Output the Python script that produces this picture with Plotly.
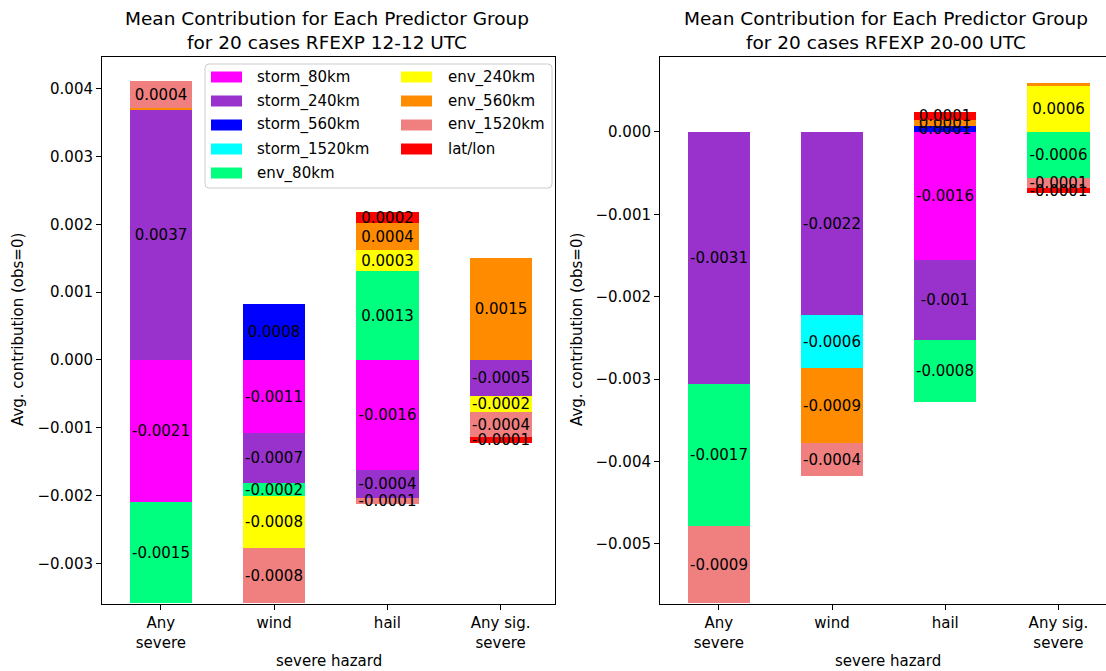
import plotly.graph_objects as go

# Hazard categories and their tick labels
hazards = ["Any severe", "wind", "hail", "Any sig. severe"]
hazard_ticks = ["Any<br>severe", "wind", "hail", "Any sig.<br>severe"]

# Predictor groups and colours
groups = ["storm_80km", "storm_240km", "storm_560km", "storm_1520km", "env_80km",
          "env_240km", "env_560km", "env_1520km", "lat/lon"]
group_colors = ["#ff00ff", "#9932cc", "#0000ff", "#00ffff", "#00ff7f",
                "#ffff00", "#ff8c00", "#f08080", "#ff0000"]

# Mean contribution per group, 12-12 UTC (order: Any severe, wind, hail, Any sig. severe)
utc12_storm_80km = [-0.00209, -0.00107, -0.00163, 0.0]
utc12_storm_240km = [0.00370, -0.00074, -0.00040, -0.00053]
utc12_storm_560km = [0.0, 0.00082, 0.0, 0.0]
utc12_storm_1520km = [0.0, 0.0, 0.0, 0.0]
utc12_env_80km = [-0.00149, -0.00019, 0.00132, 0.0]
utc12_env_240km = [0.0, -0.00078, 0.00030, -0.00024]
utc12_env_560km = [0.00002, 0.0, 0.00040, 0.00151]
utc12_env_1520km = [0.00039, -0.00080, -0.00009, -0.00037]
utc12_latlon = [0.0, 0.0, 0.00016, -0.00009]

# Mean contribution per group, 20-00 UTC
utc20_storm_80km = [0.0, 0.0, -0.00156, 0.0]
utc20_storm_240km = [-0.00306, -0.00222, -0.00096, 0.0]
utc20_storm_560km = [0.0, 0.0, 0.00007, 0.0]
utc20_storm_1520km = [0.0, -0.00064, 0.0, 0.0]
utc20_env_80km = [-0.00172, 0.0, -0.00076, -0.00056]
utc20_env_240km = [0.0, 0.0, 0.0, 0.00056]
utc20_env_560km = [0.0, -0.00091, 0.00008, 0.00004]
utc20_env_1520km = [-0.00094, -0.00041, 0.0, -0.00012]
utc20_latlon = [0.0, 0.0, 0.00009, -0.00006]

utc12 = [utc12_storm_80km, utc12_storm_240km, utc12_storm_560km, utc12_storm_1520km,
         utc12_env_80km, utc12_env_240km, utc12_env_560km, utc12_env_1520km, utc12_latlon]
utc20 = [utc20_storm_80km, utc20_storm_240km, utc20_storm_560km, utc20_storm_1520km,
         utc20_env_80km, utc20_env_240km, utc20_env_560km, utc20_env_1520km, utc20_latlon]

panel_titles = ["Mean Contribution for Each Predictor Group<br>for 20 cases RFEXP 12-12 UTC",
                "Mean Contribution for Each Predictor Group<br>for 20 cases RFEXP 20-00 UTC"]

W, H = 1106, 671
FONT = "DejaVu Sans"
FS = 15


def px(x):
    return x / W


def py(y):
    return 1 - y / H


def seg_label(v):
    r = round(v, 4)
    return "" if r == 0 else str(r)


fig = go.Figure()

for series_set, xa, ya in [(utc12, "x", "y"), (utc20, "x2", "y2")]:
    for name, color, vals in zip(groups, group_colors, series_set):
        fig.add_trace(go.Bar(
            x=hazards, y=vals, name=name, width=0.55,
            marker=dict(color=color, line=dict(width=0)),
            text=[seg_label(v) for v in vals],
            textposition="inside", insidetextanchor="middle", textangle=0,
            textfont=dict(family=FONT, size=FS, color="black"),
            constraintext="none",
            xaxis=xa, yaxis=ya, showlegend=False,
        ))

axis_common = dict(
    showline=True, mirror=True, linecolor="black", linewidth=1,
    ticks="outside", ticklen=5, tickcolor="black", showgrid=False, zeroline=False,
    tickfont=dict(family=FONT, size=FS, color="black"), automargin=False,
)

fig.update_layout(
    width=W, height=H, margin=dict(l=0, r=0, t=0, b=0),
    paper_bgcolor="white", plot_bgcolor="white",
    barmode="relative", bargap=0,
    uniformtext=dict(minsize=FS, mode="show"),
    font=dict(family=FONT, color="black"),
    xaxis=dict(domain=[px(102), px(555)], anchor="y", range=[-0.52, 3.48],
               tickmode="array", tickvals=hazards, ticktext=hazard_ticks, **axis_common),
    yaxis=dict(domain=[py(604), py(57)], anchor="x", range=[-0.0036, 0.00447],
               dtick=0.001, tick0=0, tickformat=".3f", **axis_common),
    xaxis2=dict(domain=[px(660), 1.0], anchor="y2", range=[-0.52, 3.42],
                tickmode="array", tickvals=hazards, ticktext=hazard_ticks, **axis_common),
    yaxis2=dict(domain=[py(604), py(57)], anchor="x2", range=[-0.00573, 0.00091],
                dtick=0.001, tick0=0, tickformat=".3f", **axis_common),
)

# Panel titles and axis titles
annotations = []
for cx, title in [(327, panel_titles[0]), (886, panel_titles[1])]:
    annotations.append(dict(x=px(cx), y=py(30), xref="paper", yref="paper", text=title,
                            showarrow=False, xanchor="center", yanchor="middle",
                            font=dict(family=FONT, size=18.5, color="black")))
for cx in [329, 888]:
    annotations.append(dict(x=px(cx), y=py(661), xref="paper", yref="paper", text="severe hazard",
                            showarrow=False, xanchor="center", yanchor="middle",
                            font=dict(family=FONT, size=FS, color="black")))
for cx in [18, 577]:
    annotations.append(dict(x=px(cx), y=py(330), xref="paper", yref="paper",
                            text="Avg. contribution (obs=0)", textangle=-90,
                            showarrow=False, xanchor="center", yanchor="middle",
                            font=dict(family=FONT, size=FS, color="black")))

# Two-column legend box on the left panel
shapes = []
bx0, by0, bx1, by1, rad = 205, 64, 552, 188, 4
path = (f"M {px(bx0 + rad)} {py(by0)} L {px(bx1 - rad)} {py(by0)} "
        f"Q {px(bx1)} {py(by0)} {px(bx1)} {py(by0 + rad)} "
        f"L {px(bx1)} {py(by1 - rad)} Q {px(bx1)} {py(by1)} {px(bx1 - rad)} {py(by1)} "
        f"L {px(bx0 + rad)} {py(by1)} Q {px(bx0)} {py(by1)} {px(bx0)} {py(by1 - rad)} "
        f"L {px(bx0)} {py(by0 + rad)} Q {px(bx0)} {py(by0)} {px(bx0 + rad)} {py(by0)} Z")
shapes.append(dict(type="path", path=path, xref="paper", yref="paper",
                   fillcolor="rgba(255,255,255,0.8)", line=dict(color="#cccccc", width=1),
                   layer="above"))
row_y = [77, 101, 125, 149, 173]
for i, (name, color) in enumerate(zip(groups, group_colors)):
    col = 0 if i < 5 else 1
    row = i if i < 5 else i - 5
    sx0 = 211 if col == 0 else 401
    tx = 255 if col == 0 else 446
    cy = row_y[row]
    shapes.append(dict(type="rect", xref="paper", yref="paper",
                       x0=px(sx0), x1=px(sx0 + 31), y0=py(cy - 5.5), y1=py(cy + 5.5),
                       fillcolor=color, line=dict(width=0), layer="above"))
    annotations.append(dict(x=px(tx), y=py(cy), xref="paper", yref="paper", text=name,
                            showarrow=False, xanchor="left", yanchor="middle",
                            font=dict(family=FONT, size=FS, color="black")))

fig.update_layout(annotations=annotations, shapes=shapes)

fig.write_html("out.html")
